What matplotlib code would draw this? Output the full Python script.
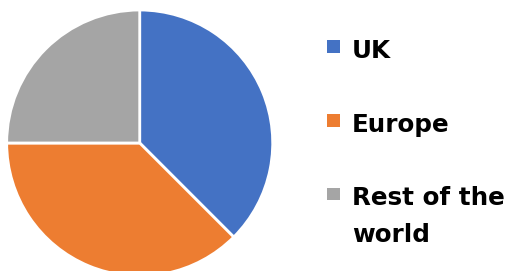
import matplotlib
matplotlib.use("Agg")
import matplotlib.pyplot as plt
from matplotlib.patches import Rectangle

# data
labels = ["UK", "Europe", "Rest of the\nworld"]
shares = [37.5, 37.5, 25.0]
colors = ["#4472C4", "#ED7D31", "#A5A5A5"]

fig = plt.figure(figsize=(5.11, 2.71), dpi=100)

# pie axes, slightly cut at the bottom like the original
ax = fig.add_axes([6.7 / 511, -5 / 271, 266 / 511, 266 / 271])
ax.pie(shares, colors=colors, startangle=90, counterclock=False, radius=1,
       wedgeprops=dict(edgecolor="white", linewidth=2))
ax.set_xlim(-1, 1)
ax.set_ylim(-1, 1)
ax.set_aspect("equal")
ax.axis("off")

# legend drawn by hand so the marker sits on the first text line
marker_y = [46.7, 120.5, 194]   # pixel centres from the top
baseline_y = [58, 131.7, 205]
line_gap = 36.7
for lab, col, my, by in zip(labels, colors, marker_y, baseline_y):
    fig.patches.append(Rectangle((326.7 / 511, (271 - my - 6.4) / 271), 13 / 511, 12.8 / 271,
                                 transform=fig.transFigure, facecolor=col, edgecolor="none"))
    for i, part in enumerate(lab.split("\n")):
        fig.text(352 / 511, (271 - by - i * line_gap) / 271, part, fontsize=17.7,
                 fontweight="bold", family="DejaVu Sans", va="baseline", ha="left",
                 color="black")

fig.savefig("out.png", dpi=100)
